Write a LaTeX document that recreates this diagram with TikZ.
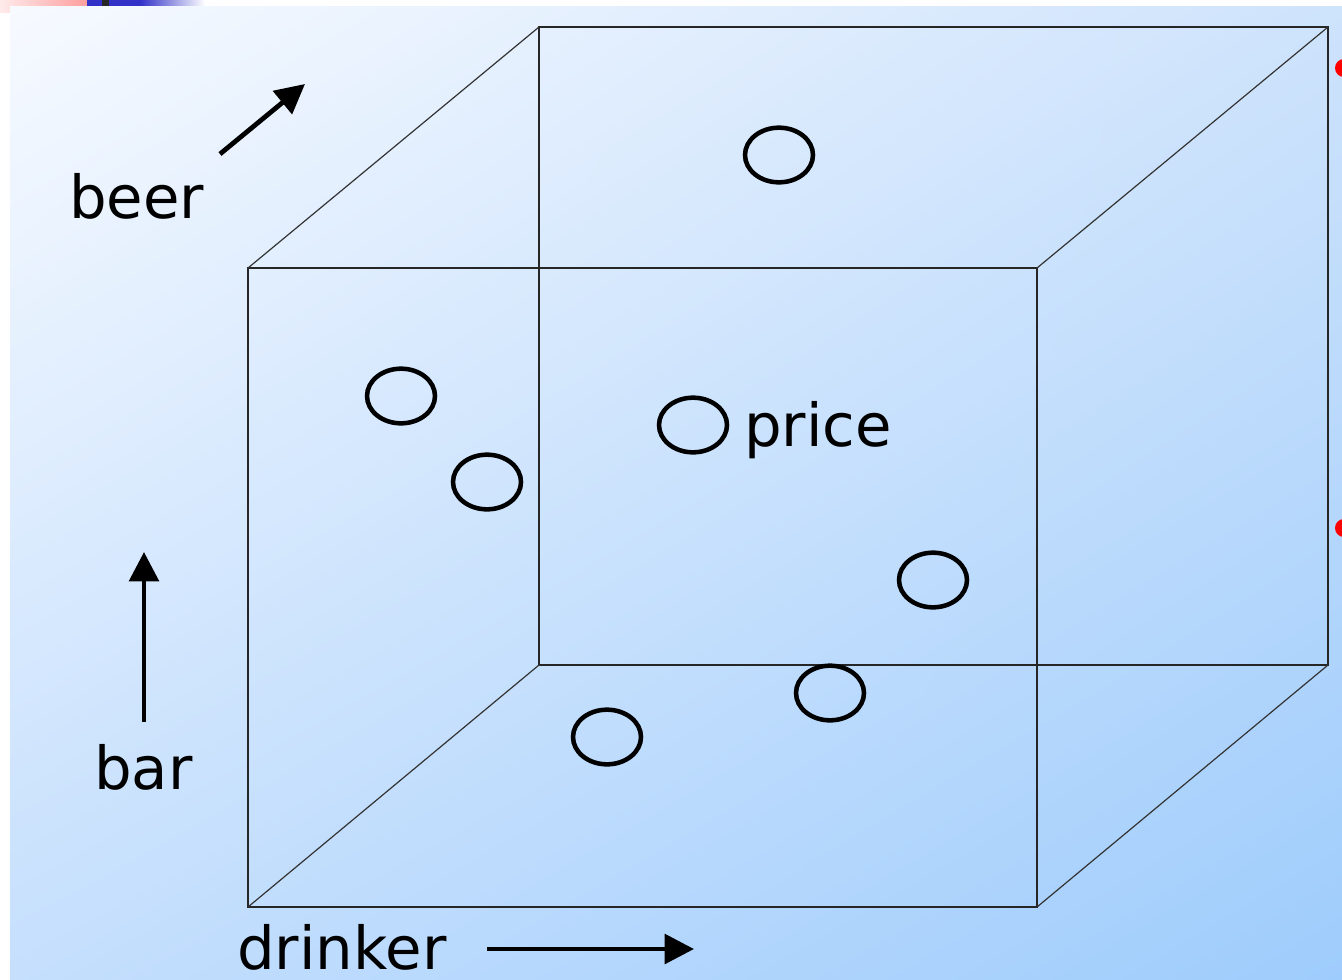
\documentclass[tikz,border=0pt]{standalone}
\usepackage{fontspec}
\setmainfont{DejaVu Sans}
\usetikzlibrary{shapes.geometric,arrows.meta,shadings}
\definecolor{bgUL}{RGB}{247,250,255}
\definecolor{bgUR}{RGB}{206,227,252}
\definecolor{bgLL}{RGB}{197,223,253}
\definecolor{bgLR}{RGB}{158,204,252}
\definecolor{stripblue}{RGB}{50,50,200}
\begin{document}
\begin{tikzpicture}[x=0.75pt,y=-0.75pt,
  edge/.style={draw=black!85,line width=1.4pt},
  dot/.style={ellipse,draw=black,line width=3.4pt,minimum width=51pt,minimum height=41pt,inner sep=0pt},
  axis/.style={line width=3.6pt,-{Triangle[length=22pt,width=22pt]}},
  lbl/.style={anchor=base west,inner sep=0pt,font=\fontsize{44.5}{52}\selectfont}]
\useasboundingbox (0,0) rectangle (1342,979);
\fill[white] (0,0) rectangle (1342,979);
% top-left strip
\shade[left color=red!8,right color=red!38] (0,0) rectangle (87,12);
\fill[stripblue] (87,0) rectangle (140,6);
\shade[left color=stripblue,right color=white] (140,0) rectangle (205,6);
\fill[black!85] (102,0) rectangle (109,6);
% panel
\shade[upper left=bgUL,upper right=bgUR,lower left=bgLL,lower right=bgLR]
  (10,6) rectangle (1342,979);
% red dots
\fill[red] (1344,68) circle (9);
\fill[red] (1344,528) circle (9);
% cube
\coordinate (F1) at (248,268); \coordinate (F2) at (1037,268);
\coordinate (F3) at (1037,907); \coordinate (F4) at (248,907);
\coordinate (B1) at (539,27); \coordinate (B2) at (1328,27);
\coordinate (B3) at (1328,665); \coordinate (B4) at (539,665);
\draw[edge] (B1) -- (B2) -- (B3) -- (B4) -- cycle;
\draw[edge] (F1) -- (F2) -- (F3) -- (F4) -- cycle;
\draw[draw=black!80,line width=0.9pt] (F1) -- (B1) (F2) -- (B2) (F3) -- (B3) (F4) -- (B4);
% points
\node[dot] (p1) at (779,155) {};
\node[dot] (p2) at (401,396) {};
\node[dot] (p3) at (487,482) {};
\node[dot] (p4) at (693,425) {};
\node[dot] (p5) at (933,580) {};
\node[dot] (p6) at (830,693) {};
\node[dot] (p7) at (607,737) {};
% labels
\node[lbl] (price) at (744,446) {price};
\node[lbl] (beer) at (69,218) {beer};
\node[lbl] (bar) at (94,789) {bar};
\node[lbl] (drinker) at (237,969) {drinker};
% axis arrows
\coordinate (beerS) at (220,154); \coordinate (beerE) at (305,84);
\coordinate (barS) at (144,722); \coordinate (barE) at (144,552);
\coordinate (drS) at (487,949); \coordinate (drE) at (694,949);
\draw[axis] (beerS) -- (beerE);
\draw[axis] (barS) -- (barE);
\draw[axis] (drS) -- (drE);
\end{tikzpicture}
\end{document}
